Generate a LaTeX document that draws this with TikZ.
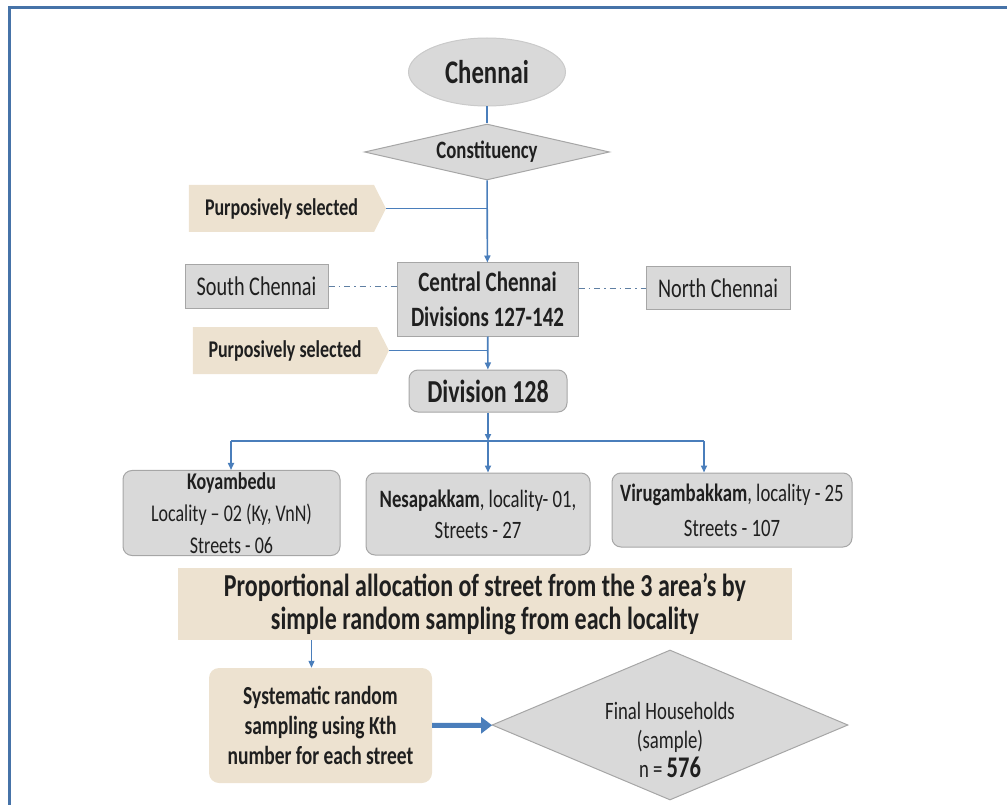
\documentclass[tikz,border=0pt]{standalone}
\usepackage{fontspec}
\setmainfont{Carlito}[FakeStretch=0.75]
\usetikzlibrary{positioning, arrows.meta, shapes.geometric, shapes.symbols, shadows}
\definecolor{lineblue}{HTML}{4A7EBB}
\definecolor{frameblue}{HTML}{4673A8}
\definecolor{boxgray}{HTML}{D9D9D9}
\definecolor{edgegray}{HTML}{A6A6A6}
\definecolor{tanfill}{HTML}{EDE2D0}
\definecolor{textdark}{HTML}{1F1F1F}
\tikzset{graybox/.style={draw=edgegray, fill=boxgray, line width=1pt, text=textdark, align=center, inner sep=2pt},
         roundbox/.style={graybox, rounded corners=9pt},
         tanbox/.style={fill=tanfill, text=textdark, align=center, inner sep=2pt},
         selectbox/.style={tanbox, signal, signal to=east, signal pointer angle=126,
                           font=\bfseries\fontsize{24}{28}\selectfont},
         link/.style={draw=lineblue, line width=1.6pt},
         linkarrow/.style={link, -{Triangle[length=7pt,width=6pt]}},
         dashlink/.style={draw=lineblue!60!gray, line width=1pt, dash pattern=on 6pt off 4pt on 1.5pt off 4pt}}

\begin{document}
\begin{tikzpicture}[x=1pt, y=-1pt]
        \useasboundingbox (0,0) rectangle (1007,805);
        % Frame
        \draw[frameblue, line width=3pt] (9,805) -- (9,8) -- (1007,8);

        % Nodes
        \node[ellipse, graybox, draw=edgegray!60, minimum width=157pt, minimum height=68pt,
              font=\bfseries\fontsize{33}{36}\selectfont] (chennai) at (487,72) {Chennai};
        \node[diamond, graybox, aspect=4.4, minimum width=245pt, minimum height=56pt, inner sep=1pt,
              font=\bfseries\fontsize{25}{28}\selectfont] (const) at (487,152) {Constituency};
        \node[selectbox, minimum width=197pt, minimum height=47pt] (sel1) at (281.5,208.5) {Purposively selected};
        \node[graybox, minimum width=143pt, minimum height=43pt,
              font=\fontsize{27}{30}\selectfont] (south) at (256.5,286.5) {South Chennai};
        \node[graybox, minimum width=181pt, minimum height=73pt,
              font=\bfseries\fontsize{28}{35}\selectfont] (central) at (487.5,299.5) {Central Chennai\\Divisions 127-142};
        \node[graybox, minimum width=144pt, minimum height=43pt,
              font=\fontsize{27}{30}\selectfont] (north) at (718,288) {North Chennai};
        \node[selectbox, minimum width=196pt, minimum height=47pt] (sel2) at (285,350.5) {Purposively selected};
        \node[roundbox, minimum width=158pt, minimum height=42pt,
              font=\bfseries\fontsize{32}{36}\selectfont] (div) at (488,391) {Division 128};
        \coordinate (barL) at (231,441);
        \coordinate (barR) at (704,441);
        \node[roundbox, minimum width=217pt, minimum height=85pt,
              font=\fontsize{24}{32}\selectfont] (koy) at (231.5,513) {\textbf{Koyambedu}\\Locality -- 02 (Ky, VnN)\\Streets - 06};
        \node[roundbox, minimum width=224pt, minimum height=82pt,
              font=\fontsize{25}{31}\selectfont] (nes) at (478,514) {\textbf{Nesapakkam}, locality- 01,\\Streets - 27};
        \node[roundbox, minimum width=240pt, minimum height=74pt,
              font=\fontsize{25}{35}\selectfont] (vir) at (732,510) {\textbf{Virugambakkam}, locality - 25\\Streets - 107};
        \node[tanbox, minimum width=614pt, minimum height=72pt,
              font=\bfseries\fontsize{32}{33}\selectfont] (prop) at (485,604)
              {Proportional allocation of street from the 3 area's by\\simple random sampling from each locality};
        \node[tanbox, rounded corners=10pt, minimum width=223pt, minimum height=115pt,
              font=\bfseries\fontsize{26}{30}\selectfont] (syst) at (320.5,725.5)
              {Systematic random\\sampling using Kth\\number for each street};
        \node[diamond, graybox, aspect=2.37, minimum width=356pt, minimum height=150pt] (final) at (670,725) {};
        \node[align=center, text=textdark, font=\fontsize{25}{29}\selectfont] (finaltext) at (670,740)
              {Final Households\\(sample)\\n = \textbf{\fontsize{30}{29}\selectfont 576}};

        % Edges
        \draw[link] (chennai) -- (const);
        \draw[linkarrow] (const) -- (central);
        \draw[link, line width=1pt] (sel1.east) -- (sel1.east -| const.south);
        \draw[dashlink] (south.east) -- (south.east -| central.west);
        \draw[dashlink] (north.west -| central.east) -- (north.west);
        \draw[linkarrow] (central) -- (div);
        \draw[link, line width=1pt] (sel2.east) -- (sel2.east -| central.south);
        \draw[linkarrow] (div) -- (div.south |- barL);
        \draw[link, line width=2.6pt] (barL) -- (barR);
        \draw[linkarrow] (barL) -- (barL |- koy.north);
        \draw[linkarrow] (div.south |- barL) -- (div.south |- nes.north);
        \draw[linkarrow] (barR) -- (barR |- vir.north);
        \draw[linkarrow, line width=1pt] ([xshift=-9pt]syst.north |- prop.south) -- ([xshift=-9pt]syst.north);
        \draw[draw=lineblue, line width=5pt, -{Triangle[length=11pt,width=16pt]}] (syst) -- (final);
    \end{tikzpicture}
\end{document}
